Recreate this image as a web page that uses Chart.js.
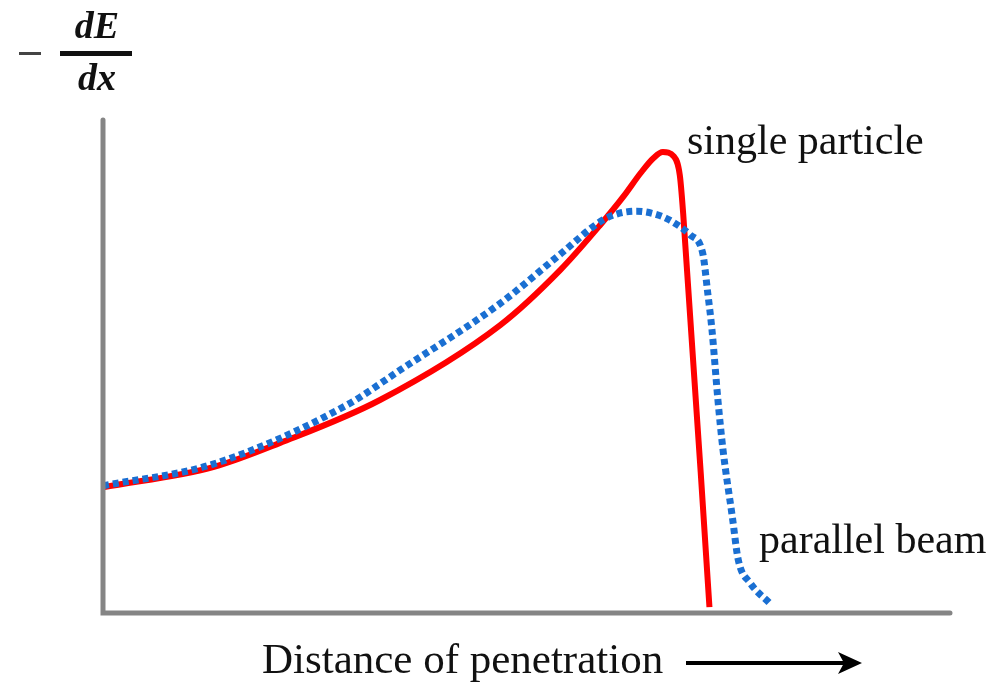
<!DOCTYPE html>
<html>
<head>
<meta charset="utf-8">
<script src="https://cdn.jsdelivr.net/npm/chart.js@4.4.1/dist/chart.umd.min.js"></script>
<style>
  html, body { margin: 0; padding: 0; background: #fff; }
  #wrap { width: 993px; height: 683px; }
</style>
</head>
<body>
<div id="wrap"><canvas id="braggChart" width="993" height="683"></canvas></div>
<script>
// Bragg curve, arbitrary units (x: depth 0-100, y: -dE/dx 0-100)
const singleX = [0, 13.0, 20.9, 32.7, 46.9, 54.0, 58.7, 61.5, 63.5, 65.0, 66.1, 67.4, 68.1, 68.5, 71.6];
const singleY = [25.5, 29.6, 34.5, 43.2, 58.4, 69.6, 78.7, 84.6, 89.3, 92.3, 93.5, 92.6, 88.8, 81.0, 1.2];

const beamX = [0, 13.0, 28.8, 35.1, 46.9, 54.0, 59.0, 61.0, 63.0, 65.2, 66.9, 69.3, 70.8, 71.4, 71.9, 72.6, 73.2, 74.3, 75.0, 76.4, 78.7];
const beamY = [25.8, 30.2, 42.2, 49.3, 62.8, 72.8, 79.7, 81.1, 81.5, 80.9, 79.7, 76.7, 73.0, 64.9, 57.4, 43.2, 33.1, 19.5, 10.8, 6.1, 2.0];

const seriesNames = ['single particle', 'parallel beam'];
const xTitle = 'Distance of penetration';

const toPoints = (xs, ys) => xs.map((x, i) => ({ x: x, y: ys[i] }));

// Axes, labels and the little arrow drawn on top of the chart area
const decorPlugin = {
  id: 'decor',
  afterDraw(chart) {
    const ctx = chart.ctx;
    const a = chart.chartArea;
    ctx.save();

    // axis lines
    ctx.strokeStyle = '#858585';
    ctx.lineWidth = 5;
    ctx.lineCap = 'round';
    ctx.beginPath();
    ctx.moveTo(a.left, a.top);
    ctx.lineTo(a.left, a.bottom);
    ctx.lineTo(a.right, a.bottom);
    ctx.stroke();

    // series labels
    ctx.fillStyle = '#111';
    ctx.font = '42px "Liberation Serif", "DejaVu Serif", serif';
    ctx.textBaseline = 'alphabetic';
    ctx.textAlign = 'left';
    ctx.fillText(seriesNames[0], 687, 154);
    ctx.fillText(seriesNames[1], 759, 553);

    // x title + arrow
    ctx.font = '43px "Liberation Serif", "DejaVu Serif", serif';
    ctx.fillText(xTitle, 262, 673);
    ctx.strokeStyle = '#000';
    ctx.lineWidth = 4;
    ctx.lineCap = 'butt';
    ctx.beginPath();
    ctx.moveTo(686, 663);
    ctx.lineTo(845, 663);
    ctx.stroke();
    ctx.fillStyle = '#000';
    ctx.beginPath();
    ctx.moveTo(862, 663);
    ctx.lineTo(838, 652);
    ctx.lineTo(844, 663);
    ctx.lineTo(838, 674);
    ctx.closePath();
    ctx.fill();

    // y title: - dE/dx
    ctx.fillStyle = '#444';
    ctx.fillRect(19, 52, 22, 3);
    ctx.fillStyle = '#111';
    ctx.fillRect(60, 51, 72, 5);
    ctx.font = 'italic bold 38px "Liberation Serif", "DejaVu Serif", serif';
    ctx.textAlign = 'center';
    ctx.fillText('dE', 97, 38);
    ctx.fillText('dx', 97, 90);

    ctx.restore();
  }
};

window.addEventListener('DOMContentLoaded', () => {
  const ctx = document.getElementById('braggChart').getContext('2d');
  new Chart(ctx, {
    type: 'line',
    data: {
      datasets: [
        {
          label: seriesNames[1],
          data: toPoints(beamX, beamY),
          borderColor: '#1a6fd2',
          borderWidth: 7,
          borderDash: [6, 4],
          borderCapStyle: 'butt',
          pointRadius: 0,
          fill: false,
          cubicInterpolationMode: 'monotone'
        },
        {
          label: seriesNames[0],
          data: toPoints(singleX, singleY),
          borderColor: '#ff0000',
          borderWidth: 6,
          pointRadius: 0,
          fill: false,
          cubicInterpolationMode: 'monotone'
        }
      ]
    },
    options: {
      responsive: false,
      animation: false,
      layout: {
        padding: { left: 103, right: 43, top: 120, bottom: 70 }
      },
      plugins: {
        legend: { display: false },
        tooltip: { enabled: false },
        title: { display: false }
      },
      scales: {
        x: { type: 'linear', min: 0, max: 100, display: false },
        y: { type: 'linear', min: 0, max: 100, display: false }
      }
    },
    plugins: [decorPlugin]
  });
});
</script>
</body>
</html>
